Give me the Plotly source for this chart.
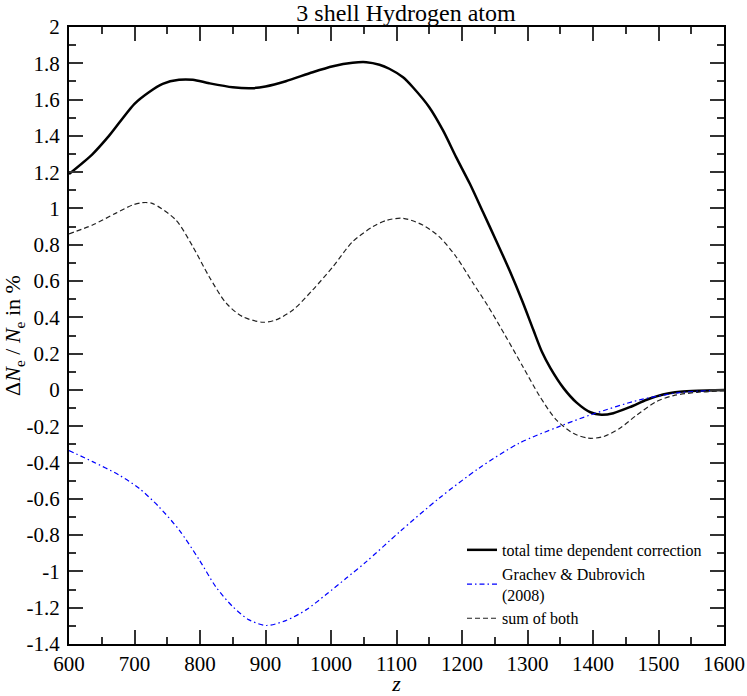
import plotly.graph_objects as go

# ---- data ----
z_total = [600, 636, 661, 700, 722, 743, 768, 789, 814, 850, 880, 900, 931, 972, 1003,
           1033, 1054, 1074, 1089, 1110, 1125, 1150, 1171, 1191, 1212, 1232, 1252, 1273,
           1292, 1309, 1322, 1335, 1355, 1375, 1396, 1413, 1431, 1456, 1482, 1507, 1533,
           1560, 1600]
v_total = [1.19, 1.30, 1.40, 1.577, 1.641, 1.687, 1.709, 1.709, 1.69, 1.668, 1.663, 1.672,
           1.701, 1.751, 1.784, 1.803, 1.806, 1.792, 1.77, 1.723, 1.668, 1.558, 1.43, 1.283,
           1.136, 0.98, 0.824, 0.655, 0.49, 0.33, 0.21, 0.12, 0.01, -0.07, -0.123, -0.137,
           -0.128, -0.095, -0.054, -0.025, -0.01, -0.004, 0.0]

z_gd = [600, 636, 676, 707, 737, 768, 799, 824, 850, 875, 901, 931, 962, 992, 1023, 1054,
        1105, 1165, 1226, 1287, 1348, 1399, 1471, 1532, 1600]
v_gd = [-0.334, -0.395, -0.468, -0.542, -0.643, -0.771, -0.937, -1.084, -1.194, -1.267,
        -1.298, -1.271, -1.212, -1.129, -1.038, -0.946, -0.781, -0.597, -0.431, -0.294,
        -0.202, -0.134, -0.055, -0.015, 0.0]

z_sum = [600, 636, 671, 697, 712, 727, 763, 789, 814, 840, 865, 896, 916, 942, 972, 1003,
         1033, 1064, 1085, 1110, 1140, 1165, 1191, 1217, 1240, 1266, 1293, 1319, 1344, 1370,
         1393, 1416, 1441, 1467, 1497, 1523, 1559, 1600]
v_sum = [0.86, 0.909, 0.973, 1.019, 1.032, 1.028, 0.937, 0.79, 0.624, 0.478, 0.404, 0.373,
         0.386, 0.441, 0.551, 0.679, 0.817, 0.9, 0.935, 0.946, 0.909, 0.845, 0.734, 0.588,
         0.46, 0.30, 0.128, -0.037, -0.165, -0.239, -0.266, -0.257, -0.211, -0.138, -0.064,
         -0.031, -0.013, -0.005]

x_ticks = [600, 700, 800, 900, 1000, 1100, 1200, 1300, 1400, 1500, 1600]
x_ticktext = [str(v) for v in x_ticks]
y_ticks = [2, 1.8, 1.6, 1.4, 1.2, 1, 0.8, 0.6, 0.4, 0.2, 0, -0.2, -0.4, -0.6, -0.8, -1,
           -1.2, -1.4]
y_ticktext = ["2", "1.8", "1.6", "1.4", "1.2", "1", "0.8", "0.6", "0.4", "0.2", "0",
              "-0.2", "-0.4", "-0.6", "-0.8", "-1", "-1.2", "-1.4"]

names = ["total time dependent correction", "Grachev & Dubrovich<br>(2008)", "sum of both"]

FONT = "Liberation Serif, Times New Roman, serif"

fig = go.Figure()
fig.add_trace(go.Scatter(x=z_total, y=v_total, mode="lines", name=names[0],
                         line=dict(color="black", width=2.5, shape="spline", smoothing=0.8)))
fig.add_trace(go.Scatter(x=z_gd, y=v_gd, mode="lines", name=names[1],
                         line=dict(color="#0000ff", width=1.2, shape="spline", smoothing=0.8,
                                   dash="5px,3px,1.5px,3px")))
fig.add_trace(go.Scatter(x=z_sum, y=v_sum, mode="lines", name=names[2],
                         line=dict(color="#222222", width=1.2, shape="spline", smoothing=0.8,
                                   dash="5px,3px")))

axis_common = dict(
    showgrid=False, zeroline=False, showline=True, linecolor="black", linewidth=2,
    mirror="ticks", ticks="inside", tickcolor="#333333", tickwidth=1.5, ticklen=14,
    tickfont=dict(family=FONT, size=21, color="black"), automargin=False,
)

fig.update_xaxes(range=[600, 1600], tickmode="array", tickvals=x_ticks, ticktext=x_ticktext,
                 minor=dict(dtick=50, tick0=600, ticks="inside", ticklen=7, tickwidth=1.5,
                            tickcolor="#333333", showgrid=False),
                 title=dict(text="<i>z</i>", font=dict(family=FONT, size=22, color="black"),
                            standoff=4),
                 **axis_common)
fig.update_yaxes(range=[-1.4, 2], tickmode="array", tickvals=y_ticks, ticktext=y_ticktext,
                 minor=dict(dtick=0.1, tick0=0, ticks="inside", ticklen=7, tickwidth=1.5,
                            tickcolor="#333333", showgrid=False),
                 ticklabelstandoff=3,
                 title=dict(text="Δ<i>N</i><sub>e</sub> / <i>N</i><sub>e</sub> in %",
                            font=dict(family=FONT, size=22, color="black"), standoff=2),
                 **axis_common)

fig.update_layout(
    width=747, height=696,
    margin=dict(l=69, r=23, t=27, b=52),
    plot_bgcolor="white", paper_bgcolor="white",
    font=dict(family=FONT, color="black"),
    title=dict(text="3 shell Hydrogen atom", font=dict(family=FONT, size=24, color="black"),
               x=406 / 747, xanchor="center", y=1 - 13 / 696, yanchor="middle",
               xref="container", yref="container", automargin=False),
    legend=dict(x=0.6, y=0.18, xanchor="left", yanchor="top",
                font=dict(family=FONT, size=16, color="black"),
                bgcolor="rgba(0,0,0,0)", borderwidth=0),
)

fig.write_html(
    "out.html",
    config={"displayModeBar": False},
    post_script="document.body.style.margin='0';document.body.style.padding='0';"
                "document.documentElement.style.overflow='hidden';",
)
